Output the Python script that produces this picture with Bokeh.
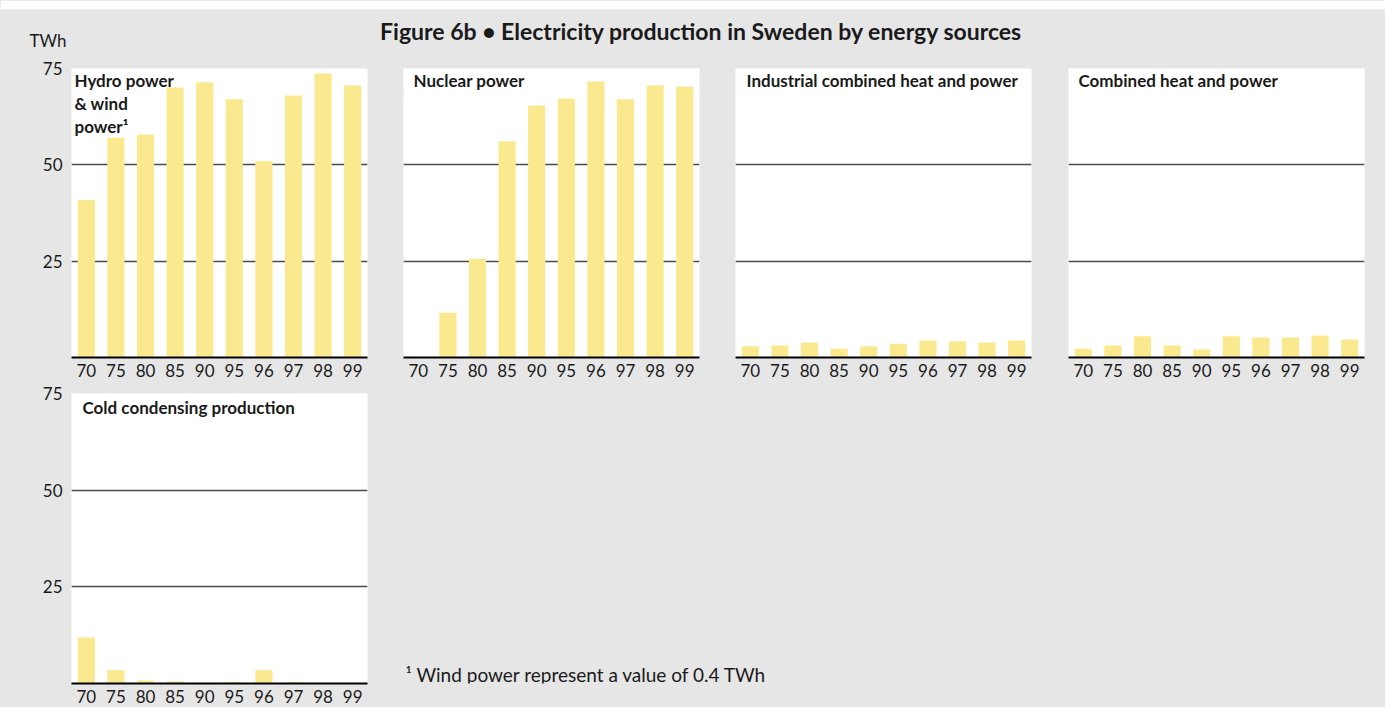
from bokeh.plotting import figure
from bokeh.models import Range1d, FixedTicker, Label, FactorRange
from bokeh.layouts import column, row
from bokeh.embed import file_html
from bokeh.resources import INLINE

# ---- data (TWh) ----
years = ["70", "75", "80", "85", "90", "95", "96", "97", "98", "99"]
hydro_wind = [40.9, 57.0, 57.9, 70.1, 71.4, 67.0, 50.9, 68.0, 73.7, 70.6]
nuclear = [0.0, 11.6, 25.6, 56.1, 65.4, 67.2, 71.6, 67.0, 70.6, 70.3]
industrial_chp = [2.9, 3.1, 3.9, 2.3, 2.9, 3.6, 4.4, 4.2, 3.9, 4.4]
chp = [2.3, 3.1, 5.5, 3.1, 2.1, 5.5, 5.2, 5.2, 5.7, 4.7]
cold_condensing = [11.9, 3.4, 0.8, 0.5, 0.2, 0.3, 3.4, 0.3, 0.0, 0.0]
y_ticks = [25, 50, 75]
grid_ticks = [25, 50]

title_text = "Figure 6b \u2022 Electricity production in Sweden by energy sources"
unit_text = "TWh"
footnote_text = "\u00b9 Wind power represent a value of 0.4 TWh"

# ---- style ----
GRAY = "#e6e6e6"
BAR = "#fbe98f"
INK = "#1a1a1a"
FONT = "Lato"
FRAME_W, FRAME_H = 296, 290
TOTAL_W = 1385


def panel(values, title_lines, left, right, top, bottom, show_y):
    p = figure(x_range=FactorRange(*years), y_range=Range1d(0, 75),
               width=left + FRAME_W + right, height=top + FRAME_H + bottom,
               min_border_left=left, min_border_right=right,
               min_border_top=top, min_border_bottom=bottom,
               toolbar_location=None, output_backend="svg")
    p.vbar(x=years, top=values, width=0.58, fill_color=BAR, line_color=None)
    p.background_fill_color = "white"
    p.border_fill_color = GRAY
    p.outline_line_color = None
    p.xgrid.visible = False
    p.ygrid.ticker = FixedTicker(ticks=grid_ticks)
    p.ygrid.grid_line_color = "#4a4a4a"
    p.ygrid.grid_line_width = 1.5
    ax = p.xaxis[0]
    ax.axis_line_color = "black"
    ax.axis_line_width = 2
    ax.major_tick_line_color = None
    ax.minor_tick_line_color = None
    ax.major_label_standoff = 0
    ax.major_label_text_font = FONT
    ax.major_label_text_font_size = "17px"
    ax.major_label_text_color = INK
    ay = p.yaxis[0]
    ay.ticker = FixedTicker(ticks=y_ticks)
    ay.axis_line_color = None
    ay.major_tick_line_color = None
    ay.minor_tick_line_color = None
    ay.major_tick_out = 0
    ay.minor_tick_out = 0
    ay.major_label_standoff = 9
    ay.major_label_text_font = FONT
    ay.major_label_text_font_size = "17px"
    ay.major_label_text_color = INK
    ay.visible = show_y
    for (txt, y, xoff) in title_lines:
        p.add_layout(Label(x=0, y=y, x_offset=xoff, text=txt, text_font=FONT,
                           text_font_style="bold", text_font_size="17px",
                           text_color=INK, text_baseline="middle"))
    return p


# header figure (page coordinates)
HEAD_H = 53
HEAD_TOP = 9
head = figure(width=TOTAL_W, height=HEAD_H, x_range=Range1d(0, TOTAL_W),
              y_range=Range1d(HEAD_H, HEAD_TOP), x_axis_type=None, y_axis_type=None,
              min_border=0, min_border_top=HEAD_TOP,
              toolbar_location=None, output_backend="svg")
head.background_fill_color = GRAY
head.border_fill_color = "white"
head.outline_line_color = None
head.grid.visible = False
head.add_layout(Label(x=701, y=30.5, text=title_text, text_font=FONT, text_font_style="bold",
                      text_font_size="23px", text_color=INK, text_align="center",
                      text_baseline="middle"))
head.add_layout(Label(x=29, y=40, text=unit_text, text_font=FONT, text_font_size="17px",
                      text_color=INK, text_baseline="middle"))

R1_TOP, R1_BOT = 15, 21
R2_TOP, R2_BOT = 14, 24
ROW2_Y = HEAD_H + R1_TOP + FRAME_H + R1_BOT

p1 = panel(hydro_wind, [("Hydro power", 71.9, 3), ("& wind", 65.95, 3), ("power\u00b9", 60.0, 3)],
           71, 18, R1_TOP, R1_BOT, True)
p2 = panel(nuclear, [("Nuclear power", 71.9, 10)], 18, 18, R1_TOP, R1_BOT, False)
p3 = panel(industrial_chp, [("Industrial combined heat and power", 71.9, 11)], 18, 18, R1_TOP, R1_BOT, False)
p4 = panel(chp, [("Combined heat and power", 71.9, 10)], 19, TOTAL_W - 385 - 332 - 332 - 19 - FRAME_W,
           R1_TOP, R1_BOT, False)
p5 = panel(cold_condensing, [("Cold condensing production", 71.4, 11)], 71, 18, R2_TOP, R2_BOT, True)

# footnote panel: its frame is aligned with the row's frames (page y 393..683)
FOOT_W = TOTAL_W - 385
FOOT_H = R2_TOP + FRAME_H + R2_BOT
f_top = ROW2_Y + R2_TOP
f_bot = f_top + FRAME_H
foot = figure(width=FOOT_W, height=FOOT_H, x_range=Range1d(0, FOOT_W),
              y_range=Range1d(f_bot, f_top), x_axis_type=None, y_axis_type=None,
              min_border_left=0, min_border_right=0,
              min_border_top=R2_TOP, min_border_bottom=R2_BOT,
              toolbar_location=None, output_backend="svg")
foot.background_fill_color = GRAY
foot.border_fill_color = GRAY
foot.outline_line_color = None
foot.grid.visible = False
foot.add_layout(Label(x=20, y=674, text=footnote_text, text_font=FONT, text_font_size="19px",
                      text_color=INK, text_baseline="middle"))

bg = {"background-color": GRAY}
layout = column(head,
                row(p1, p2, p3, p4, spacing=0, styles=bg),
                row(p5, foot, spacing=0, styles=bg),
                spacing=0, styles=bg)

open("out.html", "w").write(file_html(layout, INLINE))
